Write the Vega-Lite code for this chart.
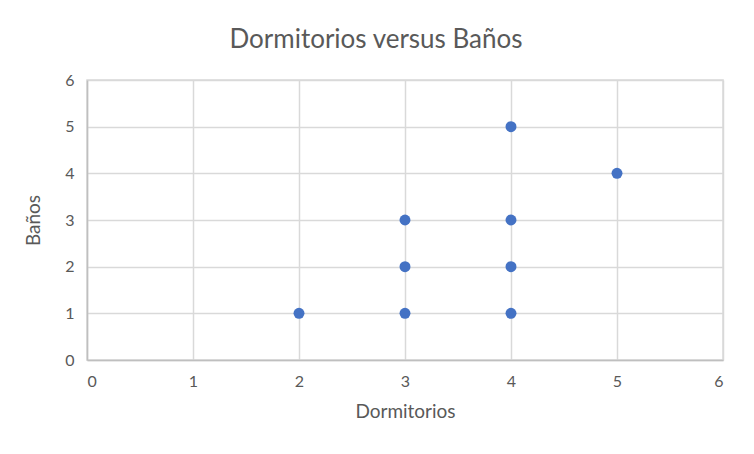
{
  "$schema": "https://vega.github.io/schema/vega-lite/v6.json",
  "autosize": "none",
  "width": 636,
  "height": 280,
  "padding": {"left": 87, "top": 80, "right": 31, "bottom": 94},
  "background": "white",
  "title": {
    "text": "Dormitorios versus Baños",
    "font": "Lato",
    "fontSize": 26,
    "fontWeight": "normal",
    "color": "#595959",
    "anchor": "middle",
    "dx": -29,
    "offset": 19
  },
  "data": {
    "values": [
      {"Dormitorios": 2, "Baños": 1},
      {"Dormitorios": 3, "Baños": 1},
      {"Dormitorios": 3, "Baños": 2},
      {"Dormitorios": 3, "Baños": 3},
      {"Dormitorios": 4, "Baños": 1},
      {"Dormitorios": 4, "Baños": 2},
      {"Dormitorios": 4, "Baños": 3},
      {"Dormitorios": 4, "Baños": 5},
      {"Dormitorios": 5, "Baños": 4}
    ]
  },
  "mark": {"type": "point", "filled": true, "size": 120, "color": "#4472C4", "opacity": 1},
  "encoding": {
    "x": {
      "field": "Dormitorios",
      "type": "quantitative",
      "scale": {"domain": [0, 6], "nice": false},
      "axis": {"values": [0, 1, 2, 3, 4, 5, 6], "title": "Dormitorios", "labelPadding": 13, "titlePadding": 13}
    },
    "y": {
      "field": "Baños",
      "type": "quantitative",
      "scale": {"domain": [0, 6], "nice": false},
      "axis": {"values": [0, 1, 2, 3, 4, 5, 6], "title": "Baños", "labelPadding": 13, "titlePadding": 21}
    }
  },
  "config": {
    "view": {"stroke": "#d9d9d9", "strokeWidth": 1.5},
    "axis": {
      "labelFont": "Lato",
      "labelFontSize": 16,
      "labelColor": "#595959",
      "titleFont": "Lato",
      "titleFontSize": 19,
      "titleFontWeight": "normal",
      "titleColor": "#595959",
      "gridColor": "#d9d9d9",
      "gridWidth": 1.5,
      "domainColor": "#bfbfbf",
      "domainWidth": 1.5,
      "ticks": false
    }
  }
}
